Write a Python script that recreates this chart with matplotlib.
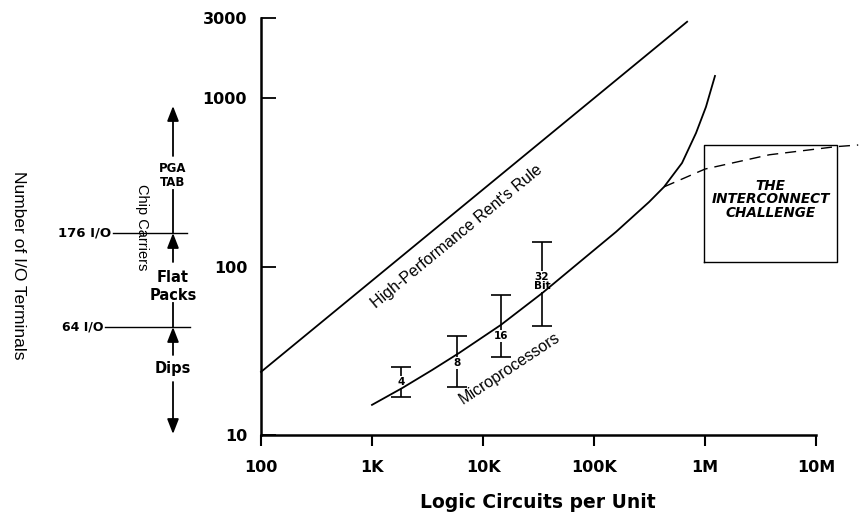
import numpy as np
import matplotlib
matplotlib.use("Agg")
import matplotlib.pyplot as plt

# ---------------- data ----------------
x_ticks = [100, 1e3, 1e4, 1e5, 1e6, 1e7]
x_ticklabels = ["100", "1K", "10K", "100K", "1M", "10M"]
y_ticks = [10, 100, 1000, 3000]
y_ticklabels = ["10", "100", "1000", "3000"]

rent_x = [100, 6.9e5]
rent_y = [23.7, 2850]

micro_x = [1.0e3, 1.87e3, 3.47e3, 6.09e3, 1.45e4, 3.43e4, 7.87e4, 1.58e5,
           3.13e5, 4.28e5, 6.21e5, 8.3e5, 1.02e6, 1.23e6]
micro_y = [15.1, 19.0, 24.3, 30.7, 45.1, 69.8, 110, 161,
           242, 298, 413, 622, 889, 1358]

challenge_x = [4.28e5, 1.0e6, 3.8e6, 1.5e7, 2.4e7]
challenge_y = [298, 380, 462, 516, 528]

bits_labels = ["4", "8", "16", "32\nBit"]
bits_x = [1.82e3, 5.8e3, 1.45e4, 3.4e4]
bits_low = [16.8, 19.3, 29.0, 44.5]
bits_high = [25.3, 38.7, 67.9, 140]
bits_label_y = [20.7, 26.8, 38.7, 82]

box_x = [9.8e5, 1.55e7]
box_y = [107, 530]

# ---------------- figure ----------------
W, H = 860, 514
fig = plt.figure(figsize=(W / 100, H / 100), dpi=100)

L, R, B, T = 261, 860, 435, 18
ax = fig.add_axes([L / W, (H - B) / H, (R - L) / W, (B - T) / H])
ax.set_xscale("log")
ax.set_yscale("log")
ax.set_xlim(100, 10 ** (2 + (R - L) / 111.0))
ax.set_ylim(10, 3000)

for s in ["top", "right"]:
    ax.spines[s].set_visible(False)
ax.spines["left"].set_linewidth(1.8)
ax.spines["bottom"].set_linewidth(1.8)
ax.spines["bottom"].set_bounds(100, 1e7)

ax.set_xticks(x_ticks)
ax.set_xticklabels(x_ticklabels)
ax.set_yticks(y_ticks)
ax.set_yticklabels(y_ticklabels)
ax.minorticks_off()
ax.tick_params(axis="x", direction="out", length=8, width=1.5, pad=10,
               labelsize=11.5)
ax.tick_params(axis="y", direction="in", length=11, width=1.3, pad=10,
               labelsize=11.5)
for lab in ax.get_xticklabels() + ax.get_yticklabels():
    lab.set_fontweight("bold")

lw = 1.3
ax.plot(rent_x, rent_y, color="black", lw=lw, zorder=5, clip_on=False)
ax.plot(micro_x, micro_y, color="black", lw=lw, zorder=5, clip_on=False)
ax.plot(challenge_x, challenge_y, color="black", lw=1.0, ls=(0, (8, 5)),
        zorder=5, clip_on=False)

# error bars
for bx, lo, hi in zip(bits_x, bits_low, bits_high):
    mid = np.sqrt(lo * hi)
    ax.errorbar([bx], [mid], yerr=[[mid - lo], [hi - mid]],
                fmt="none", ecolor="black", elinewidth=1.2, capsize=7,
                capthick=1.2, zorder=3)
for bx, by, bl in zip(bits_x, bits_label_y, bits_labels):
    ax.text(bx, by, bl, ha="center", va="center", fontsize=7.5,
            fontweight="bold", linespacing=0.9, zorder=4,
            bbox=dict(facecolor="white", edgecolor="none", pad=0.6))

# box
ax.plot([box_x[0], box_x[1], box_x[1], box_x[0], box_x[0]],
        [box_y[0], box_y[0], box_y[1], box_y[1], box_y[0]],
        color="black", lw=1.0, zorder=4)
ax.text(np.sqrt(box_x[0] * box_x[1]), 252, "THE\nINTERCONNECT\nCHALLENGE",
        ha="center", va="center", fontsize=9.8, style="italic",
        fontweight="bold", linespacing=0.95, zorder=6)

fig.canvas.draw()


def angle_of(x0, y0, x1, y1):
    p0 = ax.transData.transform((x0, y0))
    p1 = ax.transData.transform((x1, y1))
    return np.degrees(np.arctan2(p1[1] - p0[1], p1[0] - p0[0]))


ang_rent = angle_of(rent_x[0], rent_y[0], rent_x[1], rent_y[1])
ax.text(5.8e3, 150, "High-Performance Rent's Rule", rotation=ang_rent,
        rotation_mode="anchor", ha="center", va="center",
        fontsize=11.5, family="Liberation Sans")
ax.text(1.75e4, 25, "Microprocessors", rotation=33.5,
        rotation_mode="anchor", ha="center", va="center",
        fontsize=11.5, family="Liberation Sans")

# ---------------- overlay in pixel coordinates ----------------
ov = fig.add_axes([0, 0, 1, 1], facecolor="none")
ov.set_xlim(0, W)
ov.set_ylim(H, 0)
ov.axis("off")

ov.text(538, 503, "Logic Circuits per Unit", ha="center", va="center",
        fontsize=13.5, fontweight="bold")

cx = 173
arrow_kw = dict(arrowstyle="-|>,head_length=0.9,head_width=0.35",
                color="black", lw=1.3, shrinkA=0, shrinkB=0)
ov.annotate("", xy=(cx, 106), xytext=(cx, 156), arrowprops=arrow_kw)
ov.plot([cx, cx], [190, 233], color="black", lw=1.3)
ov.annotate("", xy=(cx, 233), xytext=(cx, 262), arrowprops=arrow_kw)
ov.plot([113, 187], [233, 233], color="black", lw=1.0)
ov.plot([cx, cx], [303, 327], color="black", lw=1.3)
ov.annotate("", xy=(cx, 327), xytext=(cx, 355), arrowprops=arrow_kw)
ov.plot([105, 190], [327, 327], color="black", lw=1.0)
ov.annotate("", xy=(cx, 434), xytext=(cx, 382), arrowprops=arrow_kw)

ov.text(cx, 169, "PGA", ha="center", va="center", fontsize=8.5,
        fontweight="bold")
ov.text(cx, 183, "TAB", ha="center", va="center", fontsize=8.5,
        fontweight="bold")
ov.text(cx, 278, "Flat", ha="center", va="center", fontsize=10.5,
        fontweight="bold")
ov.text(cx, 295, "Packs", ha="center", va="center", fontsize=10.5,
        fontweight="bold")
ov.text(cx, 368, "Dips", ha="center", va="center", fontsize=10.5,
        fontweight="bold")
ov.text(111, 233, "176 I/O", ha="right", va="center", fontsize=9.5,
        fontweight="bold")
ov.text(104, 327, "64 I/O", ha="right", va="center", fontsize=9,
        fontweight="bold")
ov.text(142, 227, "Chip Carriers", ha="center", va="center", rotation=-90,
        fontsize=10.5, family="Liberation Sans")
ov.text(18, 265, "Number of I/O Terminals", ha="center", va="center",
        rotation=-90, fontsize=12.5, family="Liberation Sans")

fig.savefig("out.png", dpi=100)
